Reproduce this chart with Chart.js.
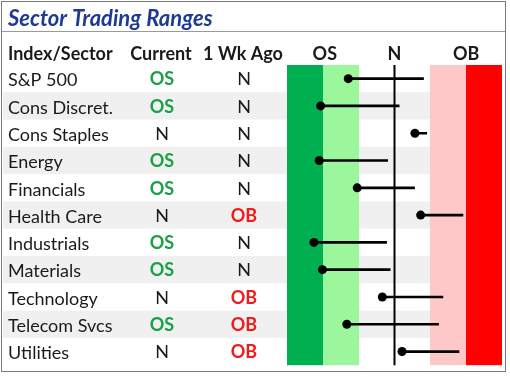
<!DOCTYPE html>
<html><head><meta charset="utf-8">
<script src="https://cdn.jsdelivr.net/npm/chart.js@4"></script>
<style>html,body{margin:0;padding:0;background:#fff;overflow:hidden}#wrap{width:510px;height:376px;position:relative}</style>
</head><body><div id="wrap"><canvas id="c" width="510" height="376"></canvas></div>
<script>
const sectors = ['S&P 500','Cons Discret.','Cons Staples','Energy','Financials','Health Care','Industrials','Materials','Technology','Telecom Svcs','Utilities'];
const currentPos = [1.71, 0.94, 3.57, 0.90, 1.96, 3.73, 0.75, 0.99, 2.66, 1.67, 3.21];
const weekAgoPos = [3.81, 3.13, 3.90, 2.81, 3.56, 4.91, 2.78, 2.88, 4.35, 4.23, 4.80];
const currentStatus = ['OS','OS','N','OS','OS','N','OS','OS','N','OS','N'];
const weekAgoStatus = ['N','N','N','N','N','OB','N','N','OB','OB','OB'];
const zoneNames = ['OS','N','OB'];
const zoneCenters = [1, 3, 5];
const zoneEdges = [0, 1, 2, 4, 5, 6];

const FONT = 'Lato, "Open Sans", sans-serif';
const statusColor = {OS:'#1aa147', OB:'#ee1c1c', N:'#1a1a1a'};
const zoneColors = ['#00b050', '#9cf79c', null, '#ffc8c8', '#ff0000'];

const tablePlugin = {
  id: 'tablePlugin',
  beforeDraw(chart) {
    const ctx = chart.ctx, area = chart.chartArea;
    const xs = chart.scales.x, ys = chart.scales.y;
    const rowH = (area.bottom - area.top) / sectors.length;
    ctx.save();
    ctx.fillStyle = '#fff';
    ctx.fillRect(0, 0, chart.width, chart.height);
    // stripes
    ctx.fillStyle = '#f0f0f0';
    const stripeEnd = xs.getPixelForValue(4);
    sectors.forEach((s, i) => {
      if (i % 2 === 1) {
        const yc = ys.getPixelForValue(i);
        ctx.fillRect(3, yc - rowH / 2, stripeEnd - 3, rowH);
      }
    });
    // title
    ctx.fillStyle = '#1f3a93';
    ctx.font = 'italic bold 22px ' + FONT;
    ctx.textAlign = 'left';
    ctx.textBaseline = 'alphabetic';
    ctx.fillText('Sector Trading Ranges', 8, 26);
    // separator
    ctx.strokeStyle = '#9a9a9a';
    ctx.lineWidth = 1;
    ctx.beginPath(); ctx.moveTo(2, 31.5); ctx.lineTo(505, 31.5); ctx.stroke();
    // headers
    ctx.fillStyle = '#1a1a1a';
    ctx.font = 'bold 18px ' + FONT;
    ctx.textAlign = 'left';
    ctx.fillText('Index/Sector', 8, 60);
    ctx.textAlign = 'center';
    ctx.fillText('Current', 161, 60);
    ctx.fillText('1 Wk Ago', 243, 60);
    zoneNames.forEach((n, k) => ctx.fillText(n, xs.getPixelForValue(zoneCenters[k]) + (k === 0 ? 2 : 0), 60));
    // status columns
    ctx.textBaseline = 'middle';
    sectors.forEach((s, i) => {
      const yc = ys.getPixelForValue(i) + 1;
      [[currentStatus[i], 162], [weekAgoStatus[i], 244]].forEach(([st, xc]) => {
        ctx.fillStyle = statusColor[st];
        ctx.font = (st === 'N' ? '' : 'bold ') + '18px ' + FONT;
        ctx.fillText(st, xc, yc);
      });
    });
    // border
    ctx.strokeStyle = '#7a7a7a';
    ctx.strokeRect(1.5, 1.5, 504, 370);
    ctx.restore();
  },
  beforeDatasetsDraw(chart) {
    const ctx = chart.ctx, area = chart.chartArea, xs = chart.scales.x;
    ctx.save();
    for (let k = 0; k < zoneEdges.length - 1; k++) {
      if (!zoneColors[k]) continue;
      const a = Math.round(xs.getPixelForValue(zoneEdges[k]));
      const b = Math.round(xs.getPixelForValue(zoneEdges[k + 1]));
      ctx.fillStyle = zoneColors[k];
      ctx.fillRect(a, area.top, b - a, area.bottom - area.top);
    }
    const nx = xs.getPixelForValue(3);
    ctx.strokeStyle = '#000';
    ctx.lineWidth = 2;
    ctx.beginPath(); ctx.moveTo(nx, area.top); ctx.lineTo(nx, area.bottom); ctx.stroke();
    ctx.restore();
  }
};

new Chart(document.getElementById('c'), {
  type: 'bar',
  data: {
    labels: sectors,
    datasets: [
      {
        type: 'bar',
        label: 'Range',
        data: currentPos.map((c, i) => [c, weekAgoPos[i]]),
        backgroundColor: '#000',
        borderWidth: 0,
        barThickness: 2,
        order: 2
      },
      {
        type: 'scatter',
        label: 'Current',
        data: sectors.map((s, i) => ({x: currentPos[i], y: s})),
        pointRadius: 4.5,
        pointBackgroundColor: '#000',
        pointBorderWidth: 0,
        order: 1
      }
    ]
  },
  options: {
    indexAxis: 'y',
    responsive: false,
    animation: false,
    devicePixelRatio: 1,
    layout: {padding: {left: 8, right: 8, top: 65, bottom: 10}},
    plugins: {legend: {display: false}, tooltip: {enabled: false}, title: {display: false}},
    scales: {
      x: {type: 'linear', min: 0, max: 6, display: false},
      y: {
        type: 'category',
        offset: true,
        grid: {display: false},
        border: {display: false},
        ticks: {crossAlign: 'far', padding: 0, labelOffset: 2, color: '#1a1a1a', font: {family: FONT, size: 18}},
        afterFit(scale) { scale.width = 279; }
      }
    }
  },
  plugins: [tablePlugin]
});
</script>
</body></html>
